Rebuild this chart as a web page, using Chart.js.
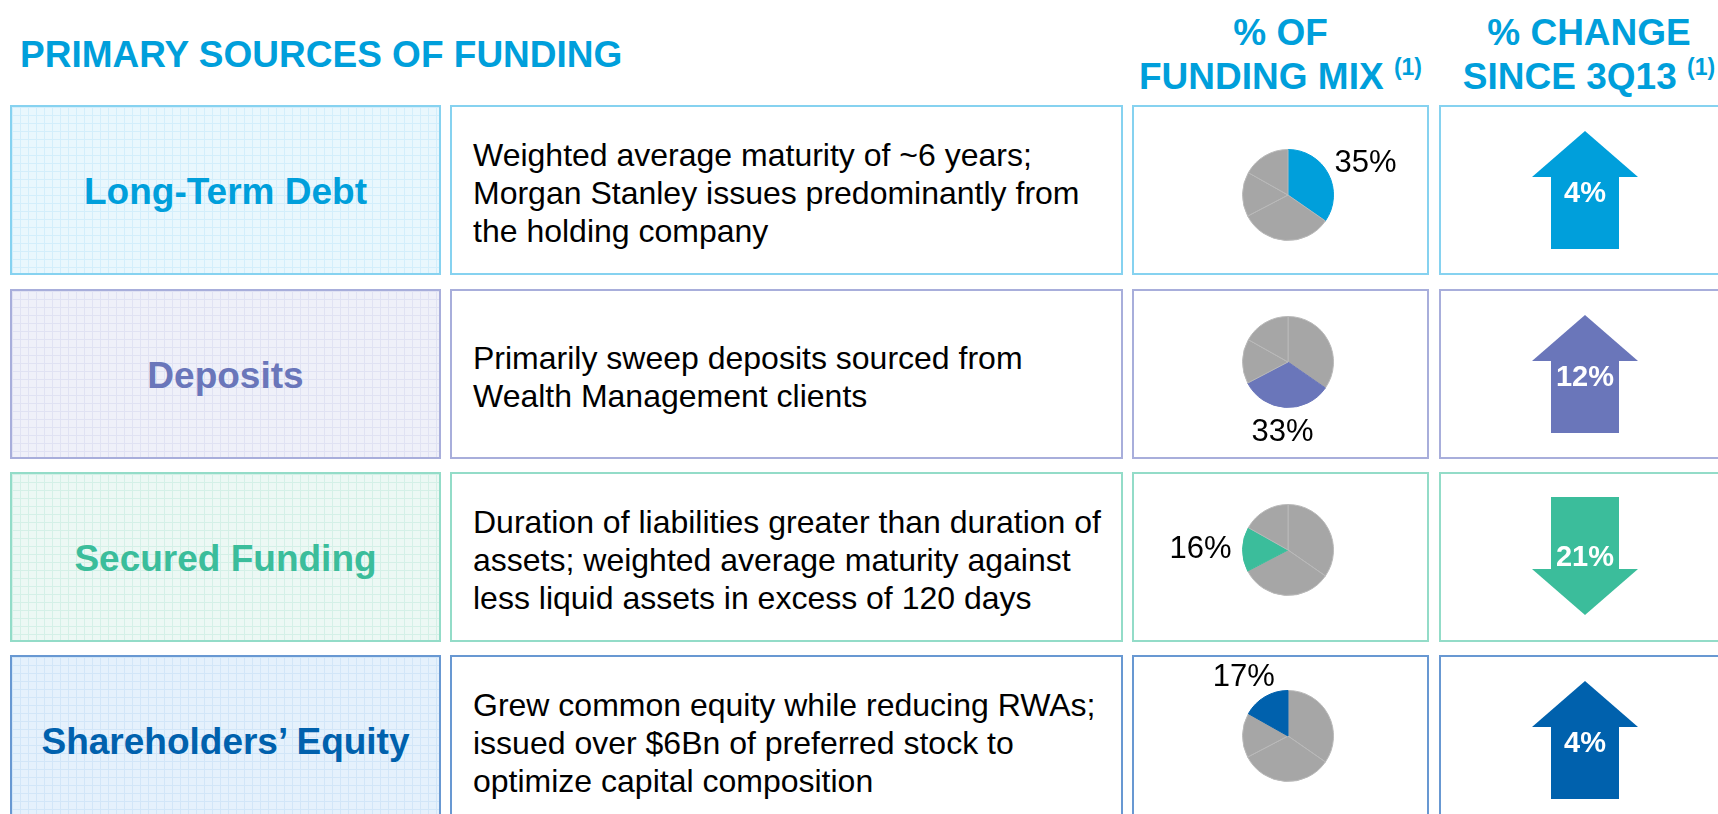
<!DOCTYPE html>
<html>
<head>
<meta charset="utf-8">
<script src="https://cdn.jsdelivr.net/npm/chart.js@4.4.0/dist/chart.umd.min.js"></script>
<style>
  body { margin:0; width:1718px; height:814px; overflow:hidden; background:#fff; position:relative;
         font-family:"Liberation Sans", Arial, sans-serif; }
  .title { position:absolute; left:20px; top:33px; font-size:37px; font-weight:bold; color:#009fdb; line-height:44px; white-space:nowrap; }
  .head { position:absolute; top:11px; font-size:37px; font-weight:bold; color:#009fdb; line-height:44px; text-align:center; white-space:nowrap; }
  .head sup { font-size:23px; vertical-align:14px; line-height:0; }
  .box { position:absolute; box-sizing:border-box; border:2px solid #ccc; background:#fff; }
  .name { display:flex; align-items:center; justify-content:center; padding-top:4px; font-size:37px; font-weight:bold; white-space:nowrap; }
  .desc { display:flex; align-items:center; padding-left:21px; padding-top:5px; font-size:32px; line-height:38px; color:#000; white-space:nowrap; }
  canvas { position:absolute; }
</style>
</head>
<body>
<div class="title">PRIMARY SOURCES OF FUNDING</div>
<div class="head" style="left:1132px;width:297px;">% OF<br>FUNDING MIX <sup>(1)</sup></div>
<div class="head" style="left:1439px;width:300px;">% CHANGE<br>SINCE 3Q13 <sup>(1)</sup></div>

<script>
// Data
const sources = ['Long-Term Debt', 'Deposits', 'Secured Funding', 'Shareholders\u2019 Equity'];
const descriptions = [
  ['Weighted average maturity of ~6 years;', 'Morgan Stanley issues predominantly from', 'the holding company'],
  ['Primarily sweep deposits sourced from', 'Wealth Management clients'],
  ['Duration of liabilities greater than duration of', 'assets; weighted average maturity against', 'less liquid assets in excess of 120 days'],
  ['Grew common equity while reducing RWAs;', 'issued over $6Bn of preferred stock to', 'optimize capital composition']
];
const fundingMix = [35, 33, 16, 17];
const changeSince3Q13 = [4, 12, -21, 4];

// Styles
const sourceColors = ['#009fdb', '#6a76ba', '#3bbd9b', '#0061ad'];
const borderColors = ['#86d2f0', '#a8aedb', '#93dcc8', '#6898d2'];
const tints = ['#e9f7fd', '#eff0f9', '#ecf8f4', '#e5f1fc'];
const gridLines = ['#d3eefb', '#e0e2f3', '#d4f0e7', '#d2e6f8'];
const GREY = '#a6a6a6';

// Layout
const rowTops = [105, 289, 472, 655];
const ROW_H = 170;
const cols = { name: [10, 431], desc: [450, 673], mix: [1132, 297], change: [1439, 300] };
const pieCy = [90, 73, 78, 81];
const PIE_CX = 156, PIE_R = 46;

function makeBox(col, i, cls) {
  const d = document.createElement('div');
  d.className = 'box ' + (cls || '');
  d.style.left = cols[col][0] + 'px';
  d.style.width = cols[col][1] + 'px';
  d.style.top = rowTops[i] + 'px';
  d.style.height = ROW_H + 'px';
  d.style.borderColor = borderColors[i];
  document.body.appendChild(d);
  return d;
}

function makeCanvas(col, i, w) {
  const c = document.createElement('canvas');
  c.width = w;
  c.height = ROW_H;
  c.style.left = cols[col][0] + 'px';
  c.style.top = rowTops[i] + 'px';
  document.body.appendChild(c);
  return c;
}

// label next to the highlighted slice
const pieLabel = {
  id: 'pieLabel',
  afterDatasetsDraw(chart, args, opts) {
    const arc = chart.getDatasetMeta(0).data[opts.index];
    const p = arc.getProps(['x', 'y', 'startAngle', 'endAngle', 'outerRadius'], true);
    const mid = (p.startAngle + p.endAngle) / 2;
    const dx = Math.cos(mid), dy = Math.sin(mid);
    const ctx = chart.ctx;
    const text = fundingMix[opts.index] + '%';
    ctx.save();
    ctx.font = '31px "Liberation Sans", Arial, sans-serif';
    ctx.fillStyle = '#000';
    ctx.textAlign = 'center';
    ctx.textBaseline = 'middle';
    const w = ctx.measureText(text).width, h = 20;
    const r = p.outerRadius;
    ctx.fillText(text, p.x + dx * (r + 11 + w / 2), p.y + dy * (r + 14 + h / 2) + 1);
    ctx.restore();
  }
};

// value written inside the arrow
const arrowLabel = {
  id: 'arrowLabel',
  afterDatasetsDraw(chart, args, opts) {
    const ctx = chart.ctx;
    const v = changeSince3Q13[opts.index];
    ctx.save();
    ctx.font = 'bold 29px "Liberation Sans", Arial, sans-serif';
    ctx.fillStyle = '#fff';
    ctx.textAlign = 'center';
    ctx.textBaseline = 'middle';
    ctx.fillText(Math.abs(v) + '%', chart.scales.x.getPixelForValue(0), chart.scales.y.getPixelForValue(v >= 0 ? 89 : 86));
    ctx.restore();
  }
};

function arrowDatasets(v, color) {
  const base = { backgroundColor: color, borderColor: 'rgba(0,0,0,0)', borderWidth: 1, pointRadius: 0, tension: 0 };
  if (v >= 0) {
    return [
      Object.assign({ data: [{ x: -34, y: 70 }, { x: 34, y: 70 }], fill: { value: 144 } }, base),
      Object.assign({ data: [{ x: -53, y: 72 }, { x: 0, y: 26 }, { x: 53, y: 72 }], fill: { value: 72 } }, base)
    ];
  }
  return [
    Object.assign({ data: [{ x: -34, y: 25 }, { x: 34, y: 25 }], fill: { value: 99 } }, base),
    Object.assign({ data: [{ x: -53, y: 97 }, { x: 0, y: 143 }, { x: 53, y: 97 }], fill: { value: 97 } }, base)
  ];
}

sources.forEach((name, i) => {
  const nb = makeBox('name', i, 'name');
  nb.textContent = name;
  nb.style.color = sourceColors[i];
  nb.style.backgroundColor = tints[i];
  nb.style.backgroundImage = `linear-gradient(to right, ${gridLines[i]} 1px, transparent 1px), linear-gradient(to bottom, ${gridLines[i]} 1px, transparent 1px)`;
  nb.style.backgroundSize = '8px 8px';

  const db = makeBox('desc', i, 'desc');
  db.innerHTML = '<div>' + descriptions[i].join('<br>') + '</div>';

  makeBox('mix', i);
  makeBox('change', i);

  // pie
  const pw = cols.mix[1];
  const cy = pieCy[i];
  new Chart(makeCanvas('mix', i, pw), {
    type: 'pie',
    data: {
      labels: sources,
      datasets: [{
        data: fundingMix,
        backgroundColor: fundingMix.map((_, j) => j === i ? sourceColors[i] : GREY),
        borderColor: fundingMix.map((_, j) => j === i ? sourceColors[i] : '#b9b9b9'),
        borderWidth: 1
      }]
    },
    options: {
      responsive: false,
      animation: false,
      devicePixelRatio: 1,
      layout: { padding: { left: PIE_CX - PIE_R, right: pw - PIE_CX - PIE_R, top: cy - PIE_R, bottom: ROW_H - cy - PIE_R } },
      plugins: { legend: { display: false }, tooltip: { enabled: false }, pieLabel: { index: i } }
    },
    plugins: [pieLabel]
  });

  // arrow
  const aw = 292;
  new Chart(makeCanvas('change', i, aw), {
    type: 'line',
    data: { datasets: arrowDatasets(changeSince3Q13[i], sourceColors[i]) },
    options: {
      responsive: false,
      animation: false,
      devicePixelRatio: 1,
      layout: { padding: 0 },
      scales: {
        x: { type: 'linear', min: -aw / 2, max: aw / 2, display: false },
        y: { type: 'linear', min: 0, max: ROW_H, reverse: true, display: false }
      },
      plugins: { legend: { display: false }, tooltip: { enabled: false }, arrowLabel: { index: i } }
    },
    plugins: [arrowLabel]
  });
});
</script>
</body>
</html>
